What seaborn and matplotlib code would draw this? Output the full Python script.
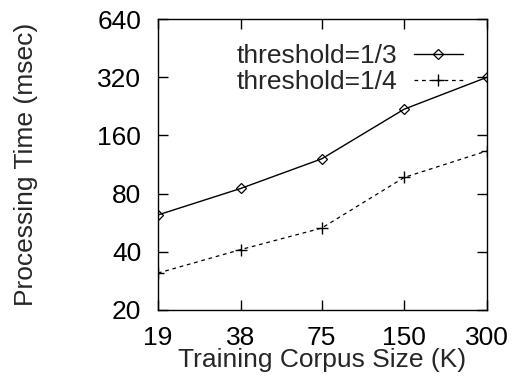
#!/usr/bin/env python3

# Import libraries
import pandas as pd
import matplotlib
matplotlib.use("Agg")
import matplotlib.pyplot as plt
import seaborn as sns
from matplotlib.ticker import FixedLocator, NullLocator

# Data
corpus_size = [19, 38, 75, 150, 300]
time_third = [62, 85, 121, 219, 320]
time_quarter = [31, 41, 53, 97, 133]
x_ticks = [19, 38, 75, 150, 300]
y_ticks = [20, 40, 80, 160, 320, 640]

df = pd.DataFrame({
    "size": corpus_size * 2,
    "time": time_third + time_quarter,
    "series": ["threshold=1/3"] * 5 + ["threshold=1/4"] * 5,
})

FS = 19

sns.set_style("ticks")
plt.rcParams["font.family"] = ["Liberation Sans", "DejaVu Sans"]
plt.rcParams["font.size"] = FS

fig = plt.figure(figsize=(5.18, 3.76), dpi=100)
ax = fig.add_axes([0.305, 0.176, 0.635, 0.773])

sns.lineplot(data=df[df.series == "threshold=1/3"], x="size", y="time",
             color="black", lw=1, marker="D", markersize=5,
             markerfacecolor="none", markeredgecolor="black",
             markeredgewidth=0.9, label="threshold=1/3", ax=ax)
sns.lineplot(data=df[df.series == "threshold=1/4"], x="size", y="time",
             color="black", lw=0.9, linestyle=(0, (3, 3)), marker="+",
             markersize=8, markeredgecolor="black", markeredgewidth=1,
             label="threshold=1/4", ax=ax)

# Log scales, base 2 spacing
ax.set_xscale("log")
ax.set_yscale("log")
ax.set_xlim(19, 300)
ax.set_ylim(20, 640)
ax.xaxis.set_major_locator(FixedLocator(x_ticks))
ax.xaxis.set_minor_locator(NullLocator())
ax.yaxis.set_major_locator(FixedLocator(y_ticks))
ax.yaxis.set_minor_locator(NullLocator())
ax.set_xticklabels([str(t) for t in x_ticks])
ax.set_yticklabels([str(t) for t in y_ticks])

ax.tick_params(direction="in", length=7, width=1, top=True, right=True,
               labelsize=FS, colors="black")
ax.tick_params(axis="y", pad=12)
ax.tick_params(axis="x", pad=11.5)
for s in ax.spines.values():
    s.set_color("black")
    s.set_linewidth(1)

# Add labels
ax.set_xlabel("Training Corpus Size (K)", fontsize=FS, labelpad=-1)
ax.set_ylabel("Processing Time (msec)", fontsize=FS)
ax.yaxis.set_label_coords(-0.365, 0.5)

ax.legend(loc="upper right", bbox_to_anchor=(0.927, 0.914), frameon=False,
          markerfirst=False, handlelength=1.86, handletextpad=0.64,
          labelspacing=0.08, fontsize=FS, borderaxespad=0, borderpad=0)

# Save figure
plt.savefig("out.png", dpi=100)
